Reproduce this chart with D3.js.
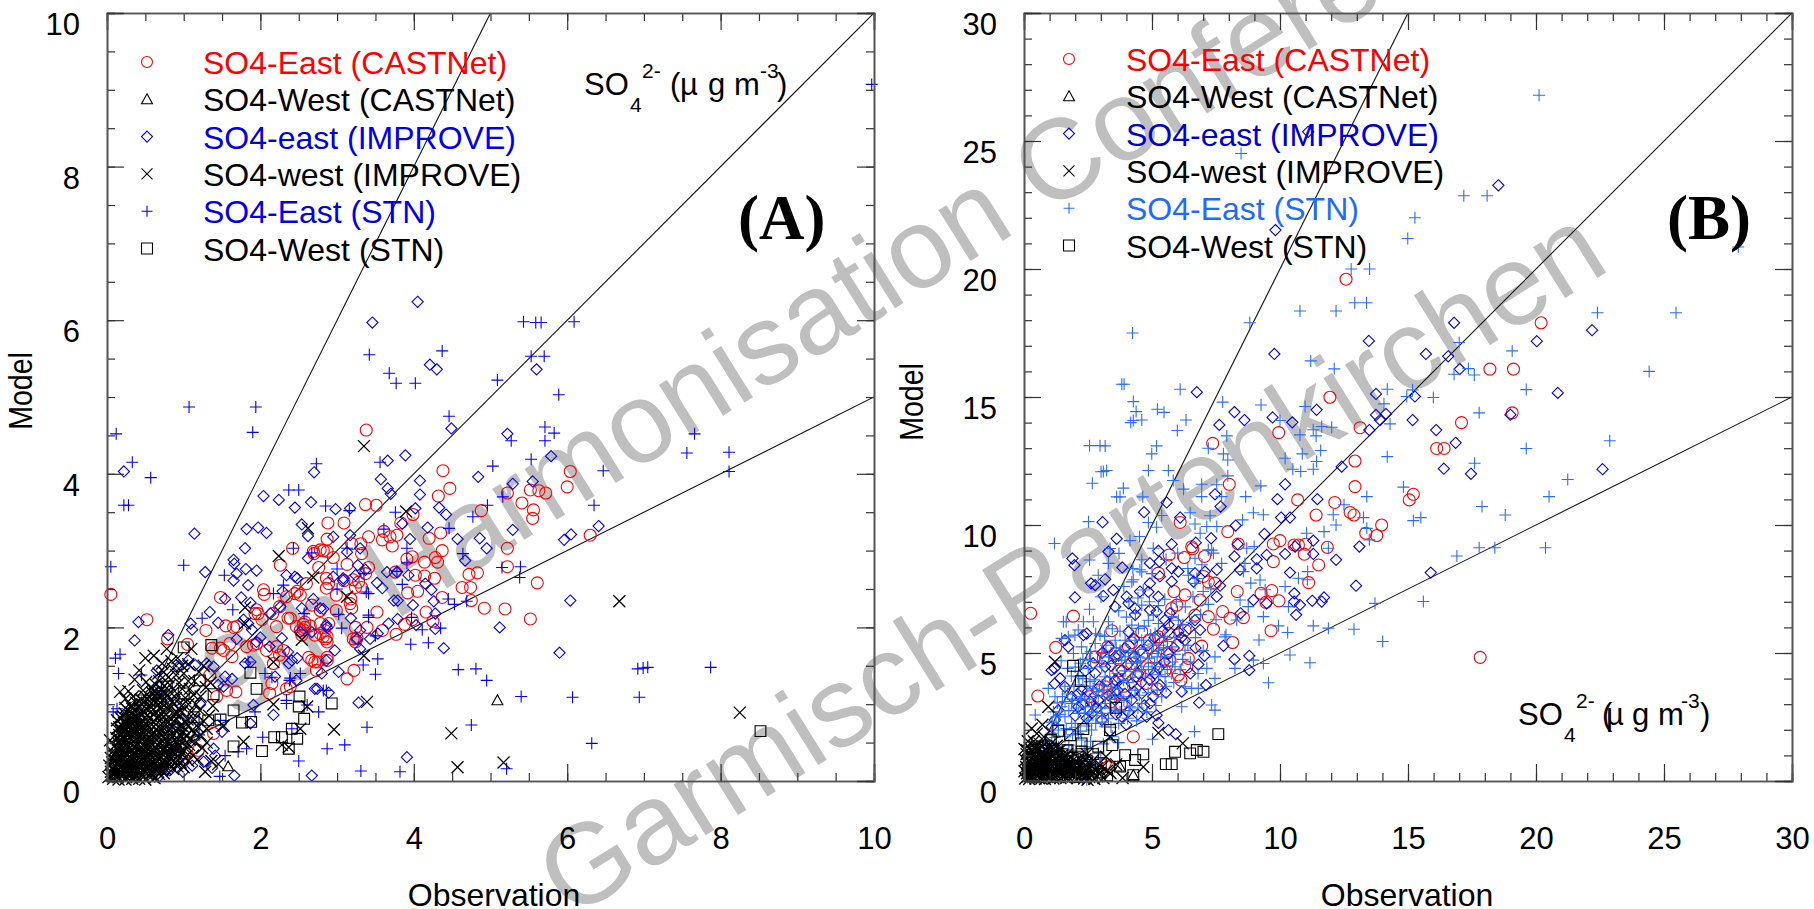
<!DOCTYPE html>
<html>
<head>
<meta charset="utf-8">
<script src="https://cdn.jsdelivr.net/npm/d3@7"></script>
<style>
  body { margin: 0; background: #fff; }
  text { font-family: "Liberation Sans", Arial, sans-serif; }
</style>
</head>
<body>
<div id="chart"></div>
<script>
// Panel A, values as [observation, model]
const aEastCastnet = [[3.38,4.57],[4.38,4.04],[4.47,3.81],[4.32,3.71],[3.37,3.6],[3.51,3.59],[2.88,3.36],[3.09,3.36],[3.99,3.47],[3.83,3.36],[6.04,4.03],[6,3.83],[5.52,3.79],[5.63,3.78],[5.72,3.75],[5.22,3.75],[5.41,3.62],[4.88,3.52],[5.56,3.53],[5.55,3.42],[4.35,3.23],[4.2,3.16],[4.37,3],[5.22,3.03],[5.22,2.79],[6.3,3.2],[4.72,2.69],[4.83,2.71],[5.61,2.58],[4.63,2.52],[4.74,2.52],[4.75,2.35],[4.92,2.25],[5.19,2.24],[5.52,2.11],[4.16,2.2],[4.37,2.39],[4.27,2.64],[4.31,2.85],[4.28,2.91],[4.14,2.85],[3.98,2.92],[3.91,2.89],[4.02,2.68],[4.14,2.67],[4.05,2.47],[3.92,2.45],[3.76,2.72],[3.78,3.2],[3.69,3.18],[3.59,3.14],[3.72,3.06],[3.61,3.25],[3.41,3.18],[3.31,3.09],[3.32,2.96],[3.19,3.09],[2.95,2.91],[2.82,3],[2.7,2.96],[2.87,3.15],[2.76,2.78],[3.13,2.82],[3.41,2.78],[3.37,2.7],[2.89,2.57],[3.09,2.61],[3.32,2.52],[3.24,2.52],[3.19,2.25],[3.18,2.37],[2.99,2.22],[2.78,2.22],[2.67,2.29],[3.24,2],[2.89,2.05],[3.39,2],[3.52,2.2],[3.59,1.96],[3.77,1.91],[3.88,2.04],[3.98,2.1],[4.25,2.08],[3.21,1.85],[2.85,1.85],[2.87,1.61],[2.63,1.61],[3.24,1.81],[2.58,2],[2.65,2.02],[0.05,2.43],[0.52,2.1],[0.79,1.85],[1.05,1.78],[1.29,1.96],[1.48,2.39],[1.55,2.02],[1.65,2],[1.37,1.73],[1.48,1.73],[1.63,1.62],[1.34,1.38],[1.68,1.16],[1.56,1.18],[1.43,1.1],[1.39,0.62],[1.19,0.4],[1.02,0.36],[2.04,2.49],[2.05,2.43],[2.26,2.81],[1.95,2.23],[1.93,2.18],[2.02,2.1],[2.21,2.01],[2.16,2.18],[2.39,2.12],[2.52,2.42],[2.48,2.47],[2.42,3.03],[2.76,2.79],[2.69,2.99],[2.87,2.99],[2.87,3.16],[2.15,1.27],[2.39,1.23],[2.17,1.53],[1.91,1.77],[2.08,1.7],[2.56,1.97],[2.65,2.01],[2.71,1.9],[2.78,1.92],[2.58,2.07],[2.63,2.01],[2.54,1.9],[2.71,1.55],[2.64,1.6],[2.87,1.57],[3.13,1.33],[3.22,1.44],[2.87,1.88],[2.87,1.81],[3.19,2.26],[3.21,1.87],[3.26,1.86],[5.6,2.58],[5.19,2.25],[4.92,2.25],
  [2.86,3.38],[3.08,3.38],[3.36,3.62],[3.49,3.59],[2.78,3.01],[2.95,2.92],[2.25,2.81],[2.06,2.49],[1.95,2.22],[1.97,2.18],[1.69,2.01],[1.54,2.01],[1.28,1.96],[1.04,1.79],[2.25,2.27],[2.34,2.4],[2.45,2.44],[2.6,2.57],[2.75,2.79],[2.86,2.64],[2.86,2.51],[2.99,2.42],[3.17,2.31],[3.3,2.53],[3.28,2.59],[3.21,2.62],[2.97,2.22],[2.36,2.12],[2.47,2.01],[2.52,1.96],[2.67,2.03],[2.78,2.05],[2.86,1.83],[2.82,1.88],[2.84,1.96],[2.56,2.04],[2.62,1.99],[2.59,2.06],[2.55,1.99],[2.65,2.04],[3.19,1.83],[3.12,1.33],[3.21,1.44],[2.86,1.59],[2.67,1.57],[2.75,1.55],[2.73,1.44],[1.82,1.75],[1.95,1.79],[2.21,1.75],[2.3,1.7],[2.25,1.64],[1.6,1.79],[1.52,1.7],[1.69,1.18],[2.34,1.2],[2.12,1.14]];
const aWestCastnet = [[5.09,1.05],[1.58,0.19],[0.05,0.2]];
const aEastImprove = [[4.49,4.59],[5.22,4.52],[5.79,4.23],[4.84,3.96],[5.29,3.87],[5.55,3.9],[3.89,4.24],[3.66,4.17],[3.57,3.93],[3.55,3.92],[3.66,3.81],[3.7,3.74],[4.08,3.91],[4.08,3.73],[4.33,3.56],[4.42,3.47],[4.02,3.55],[2.7,4.02],[2.66,3.63],[2.98,3.54],[3.17,3.55],[4.18,3.3],[3.85,3.35],[5.29,3.27],[4.57,3.15],[4.86,3.16],[4.95,3.03],[5.96,3.14],[6.05,3.21],[6.41,3.32],[4.67,2.87],[3.95,3.15],[3.93,2.68],[3.65,2.72],[3.52,2.58],[3.59,2.51],[4.15,2.57],[4.23,2.49],[4.26,2.34],[4.28,2.18],[3.74,2.35],[3.79,2.35],[3.99,2.29],[6.04,2.35],[4.28,1.98],[4.03,2.03],[3.79,2.11],[3.67,2.05],[5.12,2],[4.39,1.73],[5.9,1.67],[3.17,3.2],[2.95,3.18],[2.62,3.19],[2.62,2.9],[3.13,2.98],[3.27,2.81],[3.37,2.75],[3.24,2.68],[3.08,2.61],[2.95,2.66],[2.69,2.37],[2.82,2.24],[3.18,2.12],[3.26,1.85],[3.43,1.85],[3.53,1.92],[2.97,1.7],[3.3,1.72],[2.67,1.94],[2.87,2],[1.14,3.22],[1.82,3.28],[1.97,3.3],[2.08,3.23],[1.8,3.03],[2.54,3.34],[2.61,3.2],[1.65,2.88],[1.66,2.83],[1.28,2.72],[1.69,2.7],[1.81,2.76],[1.95,2.74],[1.65,2.61],[1.84,2.55],[0.41,2.07],[0.39,2.06],[0.36,1.83],[0.8,1.9],[1.09,2.05],[1.11,1.97],[1.34,2.2],[1.45,2.06],[1.54,2.37],[1.75,2.39],[1.87,2.32],[1.78,2.1],[1.84,2.05],[1.89,1.97],[2,1.87],[1.95,1.81],[2.26,2.27],[2.29,2.47],[2.34,2.68],[2.48,2.64],[2.63,2.9],[2.28,1.86],[2.54,2.25],[2.69,2.36],[2.78,2.25],[2.13,2.18],[2.52,1.94],[2.41,1.57],[2.37,1.53],[2.48,1.6],[2.19,1.36],[1.91,0.99],[2.17,0.86],[1.87,0.75],[2.74,1.2],[2.89,1.15],[2.8,1.4],[3.02,1.42],[3.28,1.02],[2.67,0.07],[1.66,0.07],[0.99,0.12],[1.37,0.17],[1.26,0.25],[1.41,0.33],[1.39,0.42],[1.5,0.64],[1.54,1.36],[1.63,1.33],[1.45,1.25],[1.52,1.23],[1.3,1.53],[1.15,1.51],[1.06,1.57],[0.93,1.49],[0.65,1.44],[0.69,1.23],[1.39,1.49],[1.8,1.53],[1.87,1.55],[0.93,0.27],[1.11,0.2],[0.82,0.14],[0.67,0.05],[0.87,0.4],[0.74,0.66],[0.95,0.79],[1.17,0.79],[0.56,1.1],[0.47,0.97],[0.74,1.1],[0.91,1.05],[1.21,1.01],[4.05,6.24],[3.46,5.97],[4.21,5.42],[4.3,5.36],[5.6,5.36],[4.48,4.58],[0.22,4.03],[3.91,0.31],[2.66,0.08],[6.42,3.32],[3.29,1],
  [2.04,3.71],[2.24,3.66],[2.45,3.56],[2.66,3.64],[2.97,3.54],[1.27,2.72],[2.45,2.66],[2.47,2.64],[1.08,2.05],[1.1,1.96],[1.99,1.88],[1.69,1.85],[2.12,1.75],[2.36,1.68],[2.3,1.88],[3.08,2.64],[3.25,2.81],[3.3,3.03],[3.58,2.53],[3.78,2.72],[3.17,2.14],[2.86,2.03],[3.3,1.96],[2.95,1.7],[3.3,1.7],[3.45,1.83],[2.86,1.57],[2.8,1.38],[2.47,1.31],[2.71,1.2],[2.88,1.14]];
const aWestImprove = [[3.35,4.36],[3.9,3.51],[2.62,3.29],[2.69,2.65],[3.13,2.4],[2.54,1.84],[3.35,1.63],[2.24,2.93],[3.14,2.42],[1.8,2.26],[1.8,2.05],[2.17,1.55],[0.61,1.63],[0.42,1.44],[0.17,1.16],[3.39,1.03],[2.96,0.67],[2.52,0.68],[1.78,0.51],[2.28,0.47],[2.37,0.44],[1.28,0.12],[2.61,0.97],[2.17,1],[6.68,2.34],[8.25,0.89],[4.49,0.62],[4.57,0.18],[5.17,0.24],
  [0.02,0.05],[0.05,0.12],[0.08,0.03],[0.03,0.2],[0.09,0.18],[0.12,0.08],[0.15,0.02],[0.05,0.3],[0.11,0.27],[0.16,0.15],[0.2,0.07],[0.24,0.02],[0.07,0.38],[0.13,0.35],[0.18,0.25],[0.23,0.16],[0.28,0.08],[0.33,0.03],[0.04,0.53],[0.1,0.46],[0.16,0.43],[0.21,0.33],[0.27,0.24],[0.31,0.16],[0.37,0.09],[0.42,0.03],[0.12,0.56],[0.18,0.52],[0.24,0.42],[0.3,0.32],[0.35,0.23],[0.4,0.15],[0.46,0.08],[0.5,0.02],[0.13,0.68],[0.19,0.62],[0.26,0.53],[0.32,0.41],[0.38,0.31],[0.44,0.21],[0.49,0.13],[0.55,0.06],[0.13,0.79],[0.2,0.72],[0.27,0.63],[0.34,0.51],[0.41,0.4],[0.47,0.29],[0.53,0.2],[0.58,0.11],[0.62,0.04],[0.21,0.84],[0.28,0.74],[0.36,0.61],[0.43,0.5],[0.49,0.38],[0.56,0.27],[0.62,0.17],[0.68,0.09],[0.24,0.95],[0.3,0.85],[0.37,0.72],[0.45,0.6],[0.52,0.47],[0.59,0.36],[0.65,0.25],[0.72,0.14],[0.31,0.98],[0.39,0.84],[0.47,0.71],[0.54,0.57],[0.62,0.44],[0.69,0.32],[0.76,0.2],[0.34,1.1],[0.41,0.96],[0.49,0.82],[0.57,0.67],[0.64,0.54],[0.72,0.41],[0.79,0.28],[0.86,0.16],[0.28,1.17],[0.44,1.06],[0.52,0.93],[0.6,0.78],[0.67,0.63],[0.75,0.49],[0.82,0.36],[0.9,0.24],[0.47,1.18],[0.55,1.04],[0.63,0.9],[0.7,0.73],[0.78,0.58],[0.86,0.44],[0.94,0.3],[1.0,0.18],[0.51,1.29],[0.59,1.15],[0.67,1.0],[0.74,0.84],[0.82,0.68],[0.9,0.52],[0.98,0.38],[1.06,0.26],[0.63,1.26],[0.71,1.12],[0.79,0.95],[0.87,0.78],[0.95,0.61],[1.03,0.46],[1.12,0.33],[0.67,1.4],[0.75,1.24],[0.83,1.06],[0.92,0.88],[1.0,0.7],[1.08,0.54],[1.18,0.28],[0.72,1.53],[0.8,1.35],[0.88,1.17],[0.97,0.98],[1.05,0.8],[1.14,0.62],[1.24,0.43],[0.86,1.46],[0.94,1.28],[1.02,1.08],[1.1,0.9],[1.19,0.7],[1.3,0.5],[0.92,1.6],[1.0,1.4],[1.08,1.2],[1.16,1.0],[1.26,0.78],[1.36,0.26],[1.06,1.52],[1.14,1.3],[1.22,1.1],[1.33,0.85],[0.78,1.72],[1.2,1.42],[1.29,1.22],[1.38,0.98],[1.45,0.22],[1.26,1.5],[1.35,1.28],[1.52,0.72],[0.5,1.6],[0.36,1.32],[0.24,1.07],[1.1,1.72],
  [0.06,0.07],[0.1,0.14],[0.14,0.05],[0.07,0.24],[0.14,0.21],[0.19,0.11],[0.25,0.05],[0.09,0.33],[0.15,0.3],[0.21,0.2],[0.26,0.13],[0.31,0.07],[0.09,0.44],[0.14,0.4],[0.2,0.3],[0.26,0.2],[0.33,0.12],[0.38,0.06],[0.14,0.5],[0.2,0.42],[0.25,0.34],[0.3,0.25],[0.36,0.17],[0.43,0.1],[0.47,0.05],[0.16,0.6],[0.22,0.55],[0.28,0.46],[0.34,0.36],[0.39,0.27],[0.45,0.18],[0.52,0.1],[0.16,0.7],[0.23,0.65],[0.3,0.57],[0.36,0.45],[0.42,0.35],[0.48,0.25],[0.54,0.16],[0.6,0.08],[0.18,0.82],[0.25,0.75],[0.32,0.66],[0.39,0.55],[0.45,0.44],[0.51,0.33],[0.57,0.23],[0.64,0.13],[0.23,0.88],[0.29,0.79],[0.35,0.68],[0.42,0.58],[0.48,0.46],[0.54,0.35],[0.6,0.25],[0.66,0.16],[0.27,0.92],[0.33,0.8],[0.4,0.69],[0.46,0.56],[0.53,0.43],[0.6,0.31],[0.67,0.2],[0.74,0.1],[0.33,0.94],[0.4,0.8],[0.47,0.66],[0.55,0.52],[0.61,0.4],[0.68,0.28],[0.76,0.16],[0.38,1.02],[0.45,0.88],[0.52,0.74],[0.59,0.6],[0.66,0.47],[0.74,0.34],[0.82,0.22],[0.46,1.0],[0.53,0.86],[0.61,0.71],[0.68,0.56],[0.76,0.43],[0.84,0.3],[0.92,0.19],[0.5,1.1],[0.58,0.96],[0.65,0.82],[0.73,0.66],[0.8,0.51],[0.88,0.37],[0.96,0.24],[0.57,1.22],[0.64,1.07],[0.72,0.91],[0.79,0.76],[0.87,0.6],[0.94,0.45],[1.02,0.31],[0.62,1.16],[0.7,1.02],[0.77,0.86],[0.85,0.7],[0.93,0.54],[1.01,0.39],[0.68,1.3],[0.76,1.14],[0.84,0.97],[0.91,0.8],[0.99,0.63],[1.07,0.47],[0.74,1.42],[0.82,1.25],[0.9,1.08],[0.98,0.9],[1.06,0.72],[1.15,0.5],[0.84,1.56],[0.9,1.38],[0.98,1.2],[1.06,1.0],[1.14,0.8],[1.22,0.6],[0.98,1.5],[1.06,1.3],[1.13,1.12],[1.21,0.92],[1.3,0.68],
  [0.04,0.09],[0.07,0.16],[0.11,0.11],[0.17,0.08],[0.22,0.13],[0.29,0.11],[0.35,0.06],[0.41,0.08],[0.08,0.28],[0.12,0.22],[0.18,0.18],[0.24,0.25],[0.29,0.19],[0.34,0.14],[0.4,0.22],[0.46,0.14],[0.11,0.37],[0.17,0.34],[0.23,0.37],[0.28,0.3],[0.33,0.27],[0.38,0.2],[0.44,0.28],[0.51,0.17],[0.57,0.15],[0.13,0.48],[0.19,0.47],[0.25,0.47],[0.31,0.38],[0.37,0.35],[0.43,0.3],[0.48,0.36],[0.55,0.24],[0.61,0.2],[0.15,0.56],[0.21,0.58],[0.27,0.55],[0.33,0.46],[0.39,0.42],[0.45,0.38],[0.51,0.28],[0.58,0.31],[0.65,0.18],[0.7,0.16],[0.18,0.66],[0.24,0.68],[0.3,0.62],[0.35,0.56],[0.41,0.49],[0.47,0.41],[0.53,0.37],[0.6,0.36],[0.66,0.31],[0.73,0.25],[0.22,0.76],[0.27,0.7],[0.33,0.74],[0.39,0.64],[0.44,0.54],[0.5,0.5],[0.56,0.43],[0.63,0.38],[0.7,0.29],[0.78,0.24],[0.26,0.82],[0.32,0.89],[0.37,0.78],[0.43,0.74],[0.48,0.62],[0.54,0.63],[0.6,0.53],[0.66,0.4],[0.72,0.36],[0.8,0.32],[0.35,0.87],[0.41,0.89],[0.48,0.77],[0.53,0.68],[0.59,0.67],[0.64,0.6],[0.7,0.48],[0.77,0.38],[0.84,0.39],[0.43,0.95],[0.5,0.92],[0.56,0.81],[0.62,0.76],[0.67,0.7],[0.74,0.58],[0.81,0.47],[0.89,0.43],[0.48,1.03],[0.55,0.99],[0.61,0.87],[0.68,0.83],[0.75,0.72],[0.83,0.6],[0.91,0.49],[0.56,1.09],[0.63,1.02],[0.7,0.94],[0.77,0.8],[0.85,0.78],[0.93,0.67],[1.0,0.54],[0.66,1.14],[0.73,1.05],[0.81,0.93],[0.89,0.88],[0.96,0.72],[1.04,0.6],[0.71,1.2],[0.79,1.12],[0.87,1.0],[0.95,0.92],[1.03,0.76],[1.11,0.66]];
const aEastStn = [[3.77,5.18],[4.02,5.18],[5.09,5.22],[5.89,5.03],[4.46,4.75],[5.71,4.61],[5.83,4.53],[5.71,4.43],[5.27,4.43],[2.73,4.13],[3.56,4.15],[5.03,4.1],[5.53,4.19],[5.16,3.7],[4.96,3.59],[4.77,3.44],[6.35,3.59],[2.85,3.58],[3.16,3.52],[3.76,3.5],[3.61,3.28],[4.46,3.29],[3.91,3.03],[4.64,2.96],[2.67,2.97],[3.13,3.03],[3.91,2.84],[3,2.76],[3.35,2.7],[3.78,2.73],[5.15,2.78],[5.39,2.79],[5.38,2.65],[3.85,2.56],[3,2.5],[3.41,2.44],[4.45,2.37],[4.53,2.3],[4.69,2.34],[3.97,2.13],[3.02,2.17],[3.41,2.13],[4.35,1.99],[4.11,1.97],[3.06,1.99],[3.5,1.89],[3.96,1.78],[4.19,1.8],[3.53,1.59],[2.57,2.18],[0.05,2.79],[1,2.81],[1.53,2.68],[1.24,2.12],[1.64,2.23],[2.17,2.44],[2.3,2.55],[2.68,2.99],[2.43,3.03],[0.17,1.65],[0.11,1.6],[0.15,1.4],[0.45,1.38],[0.13,0.94],[0.08,0.9],[1.47,0.06],[2.5,0.26],[2.87,0.42],[3.1,0.47],[3.39,0.7],[3.31,0.13],[3.82,0.12],[2.03,0.57],[1.82,0.42],[1.71,0.38],[1.54,0.33],[2.41,0.68],[2.76,0.9],[2.61,0.99],[2.34,1.01],[1.93,0.9],[1.48,0.79],[2.06,1.4],[1.84,1.55],[2.39,1.34],[2.52,1.4],[2.82,1.18],[3.5,1.39],[3.53,1.57],[3.34,1.51],[3.61,3.29],[5.43,5.98],[5.59,5.97],[5.66,5.97],[6.09,5.98],[3.42,5.55],[4.37,5.6],[5.53,5.53],[5.7,5.53],[3.68,5.31],[5.89,5.02],[1.07,4.87],[1.94,4.87],[1.9,4.54],[0.12,4.52],[7.66,4.52],[8.11,4.28],[7.56,4.27],[9.97,9.07],[0.33,4.15],[0.57,3.95],[0.22,3.59],[0.28,3.59],[2.37,3.79],[2.5,3.79],[2.74,4.15],[6.47,4.04],[8.11,4.03],[4.78,3.43],[4.58,1.45],[4.81,1.46],[4.95,1.31],[6.92,1.46],[6.99,1.47],[7.05,1.48],[7.87,1.48],[5.4,1.1],[6.07,1.09],[6.94,1.09],[4.75,0.73],[5.21,0.16],[6.32,0.49],[2.77,0.9],[0.6,0.42],[0.85,0.7],[1.2,0.6],
  [1.02,2.81],[1.52,2.68],[1.23,2.12],[2.99,2.77],[3.04,2.18],[3.38,2.46],[3.41,2.16],[3.49,1.9],[3.95,1.79],[3.49,1.38],[3.32,1.51],[4.1,1.96],[1.84,1.53],[2.15,1.35],[2.38,1.31],[2.86,1.18],[2.34,1.05],[2.6,1]];
const aWestStn = [[1,1.74],[1.36,1.77],[1.87,1.41],[1.95,1.2],[2.51,1.1],[2.93,1.01],[2.5,0.97],[2.57,0.81],[2.18,0.57],[2.28,0.57],[2.41,0.68],[2.48,0.55],[2.37,0.42],[2.02,0.39],[1.65,0.45],[1.88,0.77],[1.76,0.76],[1.48,0.8],[1.32,0.79],[1.39,1.13],[1.65,0.92],[1.21,1.31],[1.13,0.83],[1,1.14],[0.78,1.23],[0.69,1.05],[0.43,1.05],[8.52,0.65]];

// Panel B, values as [observation, model]
const bEastCastnet = [[11.95,14.99],[13.13,13.8],[9.95,13.61],[7.37,13.19],[12.93,12.5],[8.02,11.59],[12.93,11.5],[10.69,10.98],[12.14,10.88],[11.41,10.39],[12.74,10.49],[12.89,10.39],[13.97,10],[13.35,9.68],[13.78,9.59],[15.21,11.2],[15.05,10.98],[16.12,12.99],[6.1,10.1],[7.96,9.74],[8.37,9.26],[10,9.39],[9.74,9.26],[10.55,9.22],[10.72,9.22],[11,9.25],[10.95,8.86],[11.85,9.13],[11.51,8.44],[9.74,8.57],[5.67,8.83],[6.26,8.73],[7.05,8.77],[6.59,9.07],[5.25,8.12],[5.86,7.4],[8.33,7.4],[9.26,7.33],[9.68,7.44],[9.96,7.04],[9.45,6.98],[11.12,7.75],[7.76,6.62],[8.05,6.36],[8.57,6.38],[7.2,6.42],[7.4,5.93],[9.65,5.87],[8.15,5.41],[6.88,7.07],[6.29,7.27],[7.01,7.99],[7.46,7.73],[0.26,6.55],[1.93,6.44],[1.24,5.22],[0.54,3.32],[5.68,8.85],[6.29,8.69],[7.01,8.76],[6.55,9.15],[5.83,7.39],[6.23,7.26],[9.48,6.94],[9.94,7.03],[11.11,7.74],[9.7,8.52],[6.94,5.27],[3.43,5.87],[4.6,5.83],[4.08,5.24],[3.27,5.24],[6.42,4.79],[6.36,4.46],[6.13,3.94],[6.03,4.14],[5.7,4.72],[4.79,3.81],[4.27,1.73],[3.17,3.68],[2.9,3.55],[3.49,3.42],[4.6,4.92],[5.12,4.85],[5.38,5.37],[5.64,5.76],[5.9,6.15],[6.68,6.48],[6.29,5.89],[5.77,6.74],[5.97,6.87],[7.2,7.78],[5.25,5.63],[3.56,4.98],[2.78,4.85],[4.21,4.59],[3.3,0.56],[3.17,0.69],[12.58,19.6],[20.2,17.9],[18.2,16.09],[19.12,16.09],[19.07,14.38],[17.09,14],[16.11,12.99],[16.41,12.99],[17.82,4.83],[12.69,10.48],
  [4.9,4.4],[5.5,4.3],[5.2,3.6],[4.4,4.1],[3.9,3.7],[3.7,4.3],[4.2,5.4],[3.1,4.8],[4.9,5.5],[5.6,5.0],[6.0,5.3],[3.4,3.1],[3.8,3.0],[2.6,3.3]];
const bWestCastnet = [[3.75,0.56],[4.27,0.23],[1,0.3],[2,0.6],[3,0.3]];
const bEastImprove = [[9.78,16.68],[15.7,16.68],[6.75,15.19],[8.22,14.41],[8.61,14.1],[9.71,14.2],[7.63,13.91],[10.48,14.01],[11.43,14.5],[13.75,15.12],[15.27,15.02],[13.75,14.3],[14.14,14.34],[13.91,14.1],[13.49,13.71],[15.18,14.1],[16.1,13.71],[12.41,12.28],[10.2,11.59],[9.9,11.01],[11.46,11.01],[7.46,11.2],[7.68,10.72],[5.57,10.88],[4.69,10.5],[3.07,10.11],[6.1,10.29],[10.04,10.29],[10.39,10.29],[9.39,9.65],[8.27,9.98],[7.31,9.48],[3.62,9.46],[3.3,8.96],[5.77,9.25],[6.71,9.31],[5.25,8.99],[8.35,9.25],[11.3,9.39],[10.59,9.16],[10.2,8.87],[11.3,8.87],[13.1,9.16],[12.19,8.64],[8.22,8.77],[9.09,8.66],[9.48,8.83],[9.09,8.31],[8.44,8.25],[10.39,8.14],[12.97,7.63],[15.89,8.14],[3.84,8.34],[3.17,7.88],[3.49,7.46],[3.1,7.23],[3.56,6.81],[4.01,7.2],[4.34,6.49],[4.92,8.51],[5.29,8.57],[5.77,8.31],[6.03,8.18],[6.68,8.12],[7.07,8.18],[7.53,8.25],[5.31,7.99],[5.77,7.79],[4.92,7.72],[5.25,7.2],[4.53,7.4],[4.92,6.68],[5.7,6.55],[7.66,7.63],[7.53,7.2],[6.62,7.79],[8.96,7.07],[9.48,6.94],[10.56,7.33],[10.55,7.01],[10.78,6.88],[10.63,6.49],[11.26,7.04],[11.63,7.01],[11.72,7.17],[8.46,6.55],[7.79,5.28],[1.89,8.69],[1.97,8.43],[3.32,8.92],[2.62,7.72],[2.78,7.65],[3.45,7.48],[1.99,7.17],[4.08,6.94],[3.62,9.41],[5.7,8.37],[6.03,8.13],[4.86,7.39],[4.34,6.74],[5.18,6.61],[8.47,6.52],[7.76,5.24],[7.05,4.89],[6.81,4.55],[8.22,4.75],[8.8,4.89],[8.8,4.33],[7.11,3.75],[6.84,3.06],[6.16,3.49],[5.31,3.75],[4.92,3.03],[5.18,2.57],[5.25,2.27],[5.64,1.99],[5.93,1.83],[1.6,5.5],[1.73,5.24],[2.32,5.7],[2.45,5.76],[3.3,5.24],[1.08,4.33],[1.19,4.4],[1.41,4.01],[1.6,3.68],[4.08,2.7],[4.79,2.51],[3.56,4.85],[4.08,5.83],[5.51,6.28],[5.77,6.55],[6.88,5.9],[6.29,5.5],[6.68,6.28],[6.03,5.83],[3.17,4.46],[3.82,4.33],[4.47,4.2],[5.12,4.2],[5.64,4.98],[4.6,3.42],[4.21,3.81],[3.56,3.94],[2.78,4.2],[2.25,3.55],[1.86,3.29],[1.34,2.77],[1.21,2.38],[1.08,2.12],[3.04,2.38],[2.64,2.64],[2.12,2.9],[2.9,3.16],[3.56,3.16],[4.21,3.16],[3.82,2.51],[11.1,25.36],[18.53,23.27],[9.82,21.52],[16.8,17.9],[22.19,17.61],[20.03,17.18],[13.47,17.19],[16.57,16.59],[17.02,16.09],[20.85,15.16],[19,14.31],[22.6,12.18],[17.46,12.0],[16.4,12.2],[16.86,13.21],[1.2,3.8],[2.6,3.1],
  [2.3,3.0],[2.5,3.5],[2.95,3.7],[3.25,3.9],[3.7,4.0],[4.05,4.55],[4.3,4.85],[4.55,5.1],[4.85,5.3],[5.1,5.6],[5.4,5.85],[5.65,6.1],[3.4,4.5],[3.7,4.9],[3.95,5.2],[4.3,5.55],[2.1,3.4],[2.4,4.3],[2.7,4.6],[3.05,5.0],[3.3,3.35],[3.65,3.55],[3.95,3.4],[4.3,3.5],[4.6,3.85],[4.9,3.95],[5.25,4.4],[5.5,4.65],[5.85,5.2],[6.15,5.6],[6.45,5.95],[2.0,2.55],[2.45,2.45],[2.85,2.85],[3.2,2.75],[3.6,2.6],[4.0,2.2],[4.45,2.6],[4.7,2.95],[5.05,3.3],[5.55,3.45],[6.5,4.2],[6.7,5.2]];
const bWestImprove = [[5.25,1.88],[6.2,1.47],[4.66,0.55],[1.21,4.66],[0.95,2.9],[3.36,1.73],
  [0.05,0.1],[0.12,0.3],[0.2,0.08],[0.08,0.55],[0.28,0.42],[0.35,0.15],[0.18,0.78],[0.42,0.62],[0.52,0.25],[0.1,1.05],[0.32,0.95],[0.55,0.82],[0.68,0.4],[0.22,1.3],[0.48,1.2],[0.75,1.02],[0.85,0.6],[0.9,0.15],[0.38,1.55],[0.62,1.45],[0.92,1.3],[1.02,0.85],[1.12,0.38],[0.5,1.85],[0.78,1.72],[1.1,1.5],[1.22,1.1],[1.32,0.62],[1.42,0.12],[1.5,0.9],[1.62,0.42],[1.75,0.15],[1.85,0.75],[2.02,0.32],[2.2,0.62],[2.35,0.1],[2.55,0.45],[2.7,0.82],[2.85,0.18],[3.05,0.55],[3.2,0.95],[3.38,0.3],[3.6,0.65],[3.85,0.12],[0.02,0.38],[0.15,1.55],[0.05,0.82],[0.02,1.25],[0.3,2.05],[0.72,2.2],[1.4,1.2],[1.68,1.05],[2.45,1.05],
  [0.15,0.18],[0.25,0.22],[0.32,0.35],[0.42,0.22],[0.5,0.42],[0.58,0.12],[0.62,0.3],[0.72,0.18],[0.78,0.34],[0.82,0.08],[0.14,0.42],[0.22,0.55],[0.3,0.68],[0.38,0.78],[0.48,0.52],[0.58,0.65],[0.66,0.78],[0.75,0.52],[0.95,0.42],[1.05,0.22],[1.15,0.1],[1.22,0.28],[1.3,0.42],[1.38,0.3],[1.48,0.5],[1.55,0.22],[1.65,0.12],[1.72,0.32],[1.82,0.45],[1.92,0.18],[2.1,0.12],[2.12,0.48],[2.28,0.28],[2.42,0.22],[2.48,0.05],[2.6,0.3],[2.75,0.08],[2.8,0.42],[2.95,0.3],[3.1,0.12],[3.25,0.4],[0.25,0.85],[0.45,0.95],[0.62,1.05],[0.85,0.85],[0.98,1.1],[1.12,0.72],[1.25,0.85],[1.35,0.98],[1.45,0.72],[1.55,0.62],[1.7,0.8],[1.78,0.58],[1.95,0.58],[2.02,0.78],[2.15,0.88],[2.32,0.72],[2.48,0.72],[2.62,0.62],[0.12,0.68],[0.08,0.22],[0.02,0.12],[0.05,0.98],[0.12,1.2],[0.3,1.15],[0.42,1.35],[0.62,1.25],[0.8,1.22],[0.98,0.68],[1.15,1.25],[1.28,1.38],
  [0.2,0.3],[0.38,0.32],[0.45,0.1],[0.55,0.35],[0.68,0.1],[0.72,0.45],[0.88,0.28],[1.0,0.12],[1.08,0.3],[1.18,0.48],[1.25,0.15],[1.35,0.52],[1.45,0.38],[1.58,0.08],[1.68,0.22],[1.78,0.42],[1.88,0.28],[1.98,0.45],[2.08,0.22],[2.18,0.38],[2.3,0.48],[2.38,0.32],[2.55,0.15],[2.68,0.38],[2.85,0.5],[0.18,0.5],[0.28,0.62],[0.35,0.52],[0.52,0.62],[0.62,0.52],[0.68,0.62],[0.82,0.72],[0.92,0.55],[1.05,0.62],[1.15,0.55],[1.25,0.68],[1.42,0.58],[1.6,0.72],[1.72,0.68],[1.85,0.62],[2.1,0.7],[2.25,0.55],[2.4,0.85],[0.2,1.0],[0.38,1.1],[0.55,1.0],[0.7,0.9],[0.9,0.95],[1.05,1.02],[1.18,0.92],[1.3,1.12],[1.48,1.0],[1.62,0.95],[1.82,0.92],[0.5,1.35],[0.72,1.35],[0.9,1.15],[1.05,1.3]];
const bEastStn = [[3.82,15.5],[3.91,15.5],[6.1,15.3],[4.27,14.82],[4.38,14.43],[5.21,14.52],[5.47,14.4],[4.17,14],[4.27,14.08],[4.6,14.1],[6.33,14.1],[5.99,13.69],[3.17,13.09],[5.18,13.09],[4.99,12.78],[3.1,12.09],[3.23,12.13],[4.86,12.13],[5.64,12.13],[5.83,11.74],[3.88,11.44],[3.75,11.1],[3.62,11.1],[4.64,11.1],[6.23,11.4],[6.94,11.59],[7.53,11.57],[6.94,11.11],[7.76,14.8],[7.92,13.48],[7.2,13],[7.79,12.78],[7.96,12.54],[7.96,11.92],[9.26,14.69],[11.2,16.41],[12.12,16.1],[10.98,14.63],[10,14.08],[11.3,13.72],[10.78,13.52],[11.41,13.48],[12.02,13.82],[11.63,13.85],[11.59,12.91],[10.87,12.78],[10.2,12.61],[11.43,12.48],[10.5,12.18],[10.81,12.09],[11.3,12.18],[8.66,11.11],[9.25,11.53],[7.72,11.11],[7.27,10.36],[6.49,10.48],[5.38,10.37],[4.86,10.1],[5.18,9.91],[4.14,9.39],[4.51,9.55],[6.68,10.04],[7.14,9.94],[6.88,9.68],[7.53,9.94],[8.54,10.2],[8.96,10.48],[9.35,10.4],[7.2,9.03],[6.68,8.7],[5.05,9.09],[4.6,8.64],[4.53,8.25],[4.27,7.86],[7.72,8.5],[8.7,9.09],[8.99,9.16],[11.04,9.68],[11.72,9.74],[11.89,9.09],[12.19,10],[12.5,10.79],[12.08,10.4],[13.39,11.11],[13.26,10.29],[13.39,9.87],[13.49,9.42],[14.82,11.48],[14.19,12.67],[15.99,14.98],[14.95,15.02],[15.18,15.28],[14.19,15.3],[14.3,13.95],[14.06,14.73],[15.21,10.17],[15.5,10.29],[11.08,8.18],[10.72,7.92],[11.07,7.86],[10.2,7.6],[9.22,7.85],[8.86,7.73],[9.42,7.47],[8.63,8.5],[8.57,8.18],[8.44,7.07],[9.35,6.42],[8.76,6.81],[9.94,6.06],[10.3,5.8],[11.3,6.06],[11.89,5.97],[12.89,5.93],[13.71,6.94],[15.6,7.01],[14.01,5.45],[9.18,5.51],[7.89,5.71],[10.33,6.81],[8.31,6.29],
  [20.12,26.79],[8.48,24.51],[17.18,22.86],[18.09,22.86],[15.27,22],[14.99,21.19],[27.9,20.86],[12.78,20],[13.5,20],[12.92,18.68],[13.38,18.68],[10.78,18.36],[12.19,18.36],[8.82,17.9],[4.24,17.5],[22.4,18.29],[25.47,18.29],[17,17.13],[19.07,16.8],[24.42,16],[17.36,16.11],[16.8,15.89],[17.59,15.86],[6.09,15.29],[16,15],[19.62,15.29],[5.18,14.55],[5.43,14.39],[6.31,14.09],[4.54,14.09],[17.78,14.38],[6,13.68],[22.88,13.29],[2.56,13.1],[2.97,13.1],[19.62,12.99],
  [17.6,12.41],[21.24,11.78],[20.51,11.11],[17.89,10.72],[18.8,10.39],[17.78,9.11],[18.39,9.11],[20.37,9.11],[16.91,8.79],[0.44,2.58],[1.19,9.28],[2.52,10.13],[2.67,11.63],[3.01,12.08],[4.84,12.08],[2.56,8.63],[2.56,6.71],[1.65,6.22],[3.01,7.2],[7.46,2.77],[6.66,1.93],[5.02,1.63],
  [1.21,9.21],[3.36,9.08],[3.71,8.89],[3.3,8.5],[2.9,8.04],[2.97,7.2],[2.58,6.74],[1.54,6.22],[2.32,6.22],[2.71,6.22],[3.3,6.22],[1.47,5.57],[1.99,5.7],[2.97,5.7],[4.21,7.78],[4.6,8.17],[4.66,7.46],[4.6,6.87],[5.25,6.15],[5.05,6.48],[5.77,6.42],[6.03,6.28],[6.68,7.72],[6.42,8.04],[6.75,7.91],[7.33,9.02],[8.5,7.07],[9.29,7.78],[10.72,7.91],[11.11,8.17],[10.33,6.74],[9.29,6.42],[9.94,6.09],[11.24,6.05],[9.16,5.5],[10.39,4.92],[11.17,4.62],[9.55,3.84],[9.35,4.59],[8.96,4.72],[8.24,4.4],[7.85,5.63],[7.46,4.85],[7.14,4.4],[7.46,4.01],[6.81,3.62],[6.55,3.62],[7.53,2.7],[7.33,2.97],[6.16,2.9],[6.62,1.92],[5.77,4.2],[6.29,3.68],[0.5,2.57],[0.95,3.62],[1.21,3.29],[1.41,5.5],[2.12,5.9],[1.73,5.63],[2.25,5.24],[1.93,4.98],[2.45,4.98],[2.78,5.37],[3.04,4.98],[3.56,5.5],[3.95,5.5],[4.21,6.09],[4.47,5.96],[4.86,6.28],[5.12,5.76],[5.51,5.63],[4.6,5.5],[4.08,5.11],[3.56,4.59],[3.04,4.46],[2.51,4.4],[2.12,4.07],[2.58,3.88],[3.17,4.07],[3.82,4.72],[4.47,4.85],[4.99,4.98],[4.86,4.46],[4.34,4.27],[3.88,3.94],[3.43,3.68],[2.84,3.49],[2.25,3.29],[1.86,3.03],[1.47,2.9],[1.6,2.51],[2.12,2.64],[2.64,2.9],[3.17,3.03],[3.82,3.29],[4.34,3.55],[4.99,3.81],[5.51,4.07],[5.9,4.46],[5.38,4.46],[5.25,5.11],[5.77,5.24],[6.29,5.11],[4.34,5.5],[4.14,2.9],[4.6,3.03],[5.38,3.29],[3.56,2.77],[3.04,2.64],[2.51,2.38],[1.86,2.25],[1.34,1.99],[1.08,1.86],[0.82,1.6],[0.56,1.34],[0.3,1.08],[1.6,1.73],[2.12,1.86],[2.64,1.99],[3.17,2.12],[0.82,1.08],[1.34,1.34],[1.86,1.21],[2.38,1.34],[2.9,1.08],[0.43,0.69],[0.95,0.56],[1.47,0.69],[1.99,0.43],[2.45,0.05],
  [1.7,3.4],[1.95,3.7],[2.3,4.0],[2.75,3.95],[3.1,3.55],[3.35,3.2],[3.7,3.6],[4.05,3.85],[4.4,4.6],[4.75,4.1],[5.1,4.6],[5.45,5.2],[5.05,5.35],[4.7,5.2],[4.3,5.0],[3.75,5.1],[3.2,5.3],[2.6,4.7],[2.2,4.6],[1.7,4.4],[1.45,4.7],[2.0,2.1],[2.4,2.9],[2.85,2.55],[3.3,2.45],[1.25,2.5],[1.5,3.3],
  [1.1,2.3],[1.35,2.2],[1.65,2.05],[1.9,1.8],[2.2,1.95],[2.45,2.15],[2.8,2.25],[3.05,2.3],[3.4,2.1],[3.7,2.25],[4.05,2.45],[4.4,2.35],[1.15,2.7],[1.4,2.6],[1.75,2.75],[2.05,2.85],[2.35,2.65],[2.7,2.7],[3.0,2.85],[3.35,2.85],[3.75,2.7],[4.1,2.75],[4.45,2.85],[4.8,2.7],[5.15,2.95],[1.3,3.05],[1.6,3.1],[1.9,3.2],[2.2,3.15],[2.55,3.2],[2.9,3.3],[3.25,3.4],[3.55,3.3],[3.9,3.15],[4.2,3.25],[4.5,3.35],[4.85,3.45],[5.2,3.55],[5.55,3.7],[5.85,3.85],[1.6,3.7],[1.85,4.1],[2.15,3.75],[2.45,3.7],[2.7,3.6],[3.05,3.75],[3.35,4.05],[3.65,4.2],[3.95,4.3],[4.25,4.05],[4.6,4.35],[5.0,4.35],[5.25,4.15],[5.6,4.35],[5.9,4.95],[6.2,4.75],[6.5,4.65],[6.8,4.2],[2.0,4.45],[2.3,4.75],[2.6,5.05],[2.95,4.7],[3.3,4.85],[3.6,5.2],[3.95,4.85],[4.2,4.6],[4.55,4.65],[4.85,4.8],[5.2,4.85],[5.5,4.85],[5.8,4.65],[6.1,4.35],[6.4,5.3],[6.7,5.6],[7.0,5.1],[2.8,5.75],[3.15,5.65],[3.45,5.95],[3.75,5.85],[4.0,6.4],[4.35,6.55],[4.7,6.05],[4.95,5.7],[5.3,5.3],[5.6,5.45],[5.9,5.6],[6.2,6.1],[6.55,6.2],[6.9,6.5],[7.2,6.9],[7.5,6.3],[3.7,6.65],[4.1,7.0],[4.45,7.15],[4.9,7.0],[5.25,6.85],[5.5,7.1],[5.95,7.0],[6.3,6.8],[6.6,7.2],[7.0,7.4],[7.3,7.5],[3.9,7.6],[4.25,8.3],[5.0,8.1],[5.55,8.65],[6.0,8.9],[6.4,8.3],[6.95,8.45],[7.4,8.9],
  [0.6,0.25],[1.0,1.4],[1.25,0.85],[1.55,1.05],[1.8,0.55],[2.15,0.8],[2.4,0.95],[2.6,0.6],[2.85,0.45],[3.0,0.85],[1.05,0.2],[1.4,0.4],[0.7,1.0],[1.2,1.7],[1.75,1.4],[2.25,1.6],[2.6,1.55],[3.1,1.45],[3.45,1.75],[3.7,1.5]];
const bWestStn = [[1.92,4.5],[2.22,3.9],[3.6,2.86],[2.32,2.03],[1.34,1.96],[3.36,1.99],[3.45,1.4],[3.95,1.01],[4.66,1.04],[5.9,1.14],[6.75,1.21],[7.01,1.14],[6.49,1.08],[7.59,1.83],[5.54,0.66],[5.77,0.66],[4.27,0.23],[3.75,0.56],[2.9,1.34],[1.8,1.79],[2.25,1.47],[4.34,0.82],
  [0.9,0.2],[1.2,0.55],[1.5,0.18],[0.6,0.5],[0.35,0.9],[0.85,0.95],[1.15,1.25],[1.5,1.05],[1.75,0.6],[2.0,0.15],[2.1,0.95],[2.4,0.55],[2.65,0.2],[2.7,1.05],[3.0,0.7],[3.25,0.22],[1.05,1.6],[0.7,1.35],[0.25,0.3],[0.55,0.15],
  [1.05,0.5],[1.3,0.25],[1.45,0.7],[1.7,0.35],[1.95,0.5],[2.2,0.3],[2.45,0.8],[1.25,1.0],[1.7,1.2],[1.9,0.9],[2.25,1.15],[0.8,0.6],[0.5,0.75],[1.0,0.85]];

// Axis ticks and legend rows
const aMajor = [0, 2, 4, 6, 8, 10];
const aMinor = d3.range(0, 10.01, 0.5);
const bMajor = [0, 5, 10, 15, 20, 25, 30];
const bMinor = d3.range(0, 30.01, 1);
const ratioLines = [2, 1, 0.5];
const legendLabels = ["SO4-East (CASTNet)", "SO4-West (CASTNet)", "SO4-east (IMPROVE)", "SO4-west (IMPROVE)", "SO4-East (STN)", "SO4-West (STN)"];
const legendShapes = ["circle", "triangle", "diamond", "cross", "plus", "square"];
// Black marks go last so the clusters near the origin read black
const drawOrder = [0, 1, 2, 4, 3, 5];

const svg = d3.select("#chart").append("svg")
    .attr("width", 1814)
    .attr("height", 909);

// Watermark sits under the charts
svg.append("g").selectAll("text")
    .data([
        { text: "9th Harmonisation Conference", x: 233, y: 722 },
        { text: "Garmisch-Partenkirchen", x: 570, y: 920 }
    ])
    .enter()
    .append("text")
    .attr("transform", d => `translate(${d.x},${d.y}) rotate(-32)`)
    .attr("font-size", 114)
    .attr("fill", "#bfbfbf")
    .text(d => d.text);

// Marker outlines, r is half the marker width
function markerPath(shape, r) {
    const p = d3.path();
    if (shape === "circle") {
        p.arc(0, 0, r, 0, 2 * Math.PI);
    } else if (shape === "triangle") {
        p.moveTo(0, -r); p.lineTo(r, r * 0.8); p.lineTo(-r, r * 0.8); p.closePath();
    } else if (shape === "diamond") {
        p.moveTo(0, -r); p.lineTo(r, 0); p.lineTo(0, r); p.lineTo(-r, 0); p.closePath();
    } else if (shape === "cross") {
        p.moveTo(-r, -r); p.lineTo(r, r); p.moveTo(-r, r); p.lineTo(r, -r);
    } else if (shape === "plus") {
        p.moveTo(-r, 0); p.lineTo(r, 0); p.moveTo(0, -r); p.lineTo(0, r);
    } else {
        p.rect(-r, -r, 2 * r, 2 * r);
    }
    return p.toString();
}

// Some points got read twice from overlapping crops, keep one of each
function dropRepeats(points, tol) {
    return points.filter((d, i) => !points.slice(0, i).some(e =>
        Math.abs(e[0] - d[0]) < tol && Math.abs(e[1] - d[1]) < tol));
}

const markerR = [6, 5.5, 5.6, 6, 6, 5.4];

function drawPanel(cfg) {
    const x = d3.scaleLinear().domain([0, cfg.max]).range([cfg.left, cfg.right]);
    const y = d3.scaleLinear().domain([0, cfg.max]).range([781, 13]);
    const g = svg.append("g");

    const clipId = "clip" + cfg.name;
    g.append("clipPath").attr("id", clipId).append("rect")
        .attr("x", cfg.left).attr("y", 13)
        .attr("width", cfg.right - cfg.left).attr("height", 768);

    g.append("g").attr("clip-path", `url(#${clipId})`)
        .selectAll("line")
        .data(ratioLines)
        .enter()
        .append("line")
        .attr("x1", x(0))
        .attr("y1", y(0))
        .attr("x2", x(cfg.max))
        .attr("y2", d => y(cfg.max * d))
        .attr("stroke", "#111")
        .attr("stroke-width", 1.1);

    // Scatter layers
    drawOrder.forEach(i => {
        g.append("g")
            .attr("fill", "none")
            .attr("stroke", cfg.markColors[i])
            .attr("stroke-width", i === 3 ? 1.3 : 1.1)
            .selectAll("path")
            .data(dropRepeats(cfg.series[i], cfg.max * 0.0025))
            .enter()
            .append("path")
            .attr("transform", d => `translate(${x(d[0])},${y(d[1])})`)
            .attr("d", markerPath(legendShapes[i], markerR[i]));
    });

    // Ticks on all four sides, minor then major
    const sides = [
        { axis: d3.axisBottom(x), at: `translate(0,781)` },
        { axis: d3.axisTop(x), at: `translate(0,13)` },
        { axis: d3.axisLeft(y), at: `translate(${cfg.left},0)` },
        { axis: d3.axisRight(y), at: `translate(${cfg.right},0)` }
    ];
    sides.forEach((side, i) => {
        const minor = g.append("g").attr("transform", side.at)
            .call(side.axis.tickValues(cfg.minor).tickSize(-8).tickFormat(""));
        minor.selectAll("text").remove();
        const major = g.append("g").attr("transform", side.at)
            .call(side.axis.tickValues(cfg.major).tickSize(-17)
                .tickPadding(i === 0 ? 68 : 27).tickFormat(d3.format("d")));
        g.selectAll(".domain").attr("stroke", "#555").attr("stroke-width", 1.6);
        g.selectAll(".tick line").attr("stroke", "#333").attr("stroke-width", 1.2);
        major.selectAll("text")
            .attr("font-size", 31)
            .attr("font-family", "Liberation Sans")
            .attr("fill", "#000")
            .attr("dy", i === 2 ? "0.7em" : null);
        if (i === 1 || i === 3) major.selectAll("text").remove();
    });

    // Axis titles
    g.append("text")
        .attr("x", cfg.obsX).attr("y", 906)
        .attr("text-anchor", "middle").attr("font-size", 32)
        .text("Observation");
    g.append("text")
        .attr("transform", `translate(${cfg.modelX},${cfg.modelY}) rotate(-90) scale(0.92,1.1)`)
        .attr("text-anchor", "middle").attr("font-size", 31)
        .text("Model");

    // Legend
    legendLabels.forEach((label, i) => {
        g.append("path")
            .attr("transform", `translate(${cfg.legendMarkX},${cfg.legendY + i * 37.3})`)
            .attr("d", markerPath(legendShapes[i], 5.5))
            .attr("fill", "none")
            .attr("stroke", cfg.markColors[i])
            .attr("stroke-width", 1.1);
        g.append("text")
            .attr("x", cfg.legendTextX)
            .attr("y", cfg.legendY + 12 + i * 37.3)
            .attr("font-size", 32)
            .attr("fill", cfg.textColors[i])
            .text(label);
    });

    // Unit note and panel letter
    const u = cfg.unit;
    const unitParts = [
        { t: "SO", x: u.x, y: u.y, s: 31 },
        { t: "4", x: u.x + 46, y: u.y + 17, s: 21 },
        { t: "2-", x: u.x + 58, y: u.y - 17, s: 21 },
        { t: "(", x: u.x + u.open, y: u.y, s: 31 },
        { t: "\u00b5", x: u.x + u.open + u.mu, y: u.y, s: 31 },
        { t: "g", x: u.x + u.open + u.gee, y: u.y, s: 31 },
        { t: "m", x: u.x + u.open + u.em, y: u.y, s: 31 },
        { t: "-3", x: u.x + u.open + u.sup, y: u.y - 17, s: 21 },
        { t: ")", x: u.x + u.open + u.close, y: u.y, s: 31 }
    ];
    g.append("g").selectAll("text")
        .data(unitParts)
        .enter()
        .append("text")
        .attr("x", d => d.x).attr("y", d => d.y)
        .attr("font-size", d => d.s)
        .text(d => d.t);

    g.append("text")
        .attr("x", cfg.letterX).attr("y", 239)
        .attr("font-size", 63)
        .attr("font-weight", "bold")
        .style("font-family", "'Liberation Serif', serif")
        .text(cfg.letter);
}

drawPanel({
    name: "A", max: 10, left: 107, right: 874,
    major: aMajor, minor: aMinor,
    series: [aEastCastnet, aWestCastnet, aEastImprove, aWestImprove, aEastStn, aWestStn],
    markColors: ["#ff0000", "#000", "#0000e6", "#000", "#0000ff", "#000"],
    textColors: ["#ff0000", "#000", "#0000e6", "#000", "#0000e6", "#000"],
    obsX: 494, modelX: 32, modelY: 391,
    legendMarkX: 147, legendTextX: 203, legendY: 62,
    unit: { x: 584, y: 95, open: 86, mu: 10, gee: 38, em: 64, sup: 90, close: 107 },
    letter: "(A)", letterX: 738
});

drawPanel({
    name: "B", max: 30, left: 1024, right: 1792,
    major: bMajor, minor: bMinor,
    series: [bEastCastnet, bWestCastnet, bEastImprove, bWestImprove, bEastStn, bWestStn],
    markColors: ["#ff0000", "#000", "#0000dd", "#000", "#2a6cff", "#000"],
    textColors: ["#ff0000", "#000", "#0000cc", "#000", "#1f6bff", "#000"],
    obsX: 1407, modelX: 923, modelY: 402,
    legendMarkX: 1069, legendTextX: 1126, legendY: 59,
    unit: { x: 1518, y: 725, open: 84, mu: 4, gee: 30, em: 56, sup: 79, close: 98 },
    letter: "(B)", letterX: 1667
});
</script>
</body>
</html>
